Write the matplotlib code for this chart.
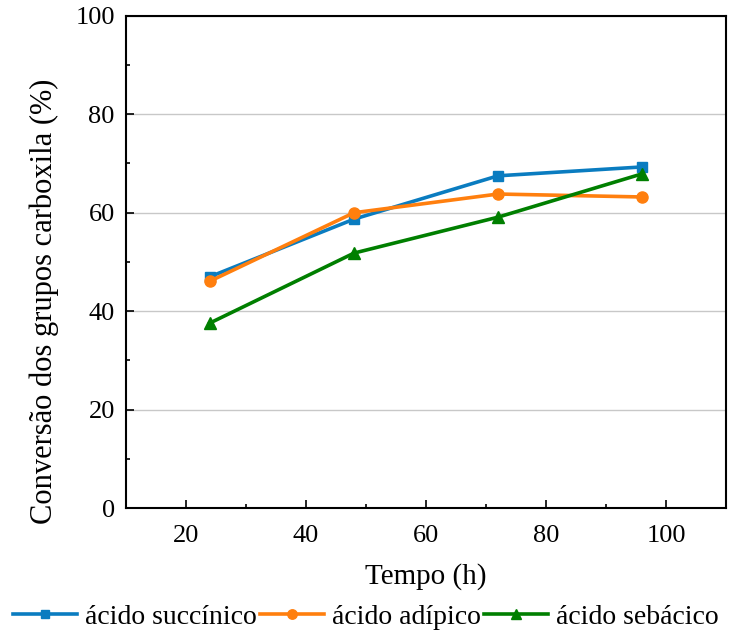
import matplotlib
matplotlib.use("Agg")
import matplotlib.pyplot as plt
from matplotlib.ticker import MultipleLocator

plt.rcParams['font.family'] = ['Liberation Serif', 'DejaVu Serif']

tempo = [24, 48, 72, 96]
succinico = [47.0, 58.7, 67.5, 69.3]
adipico = [46.1, 60.0, 63.8, 63.2]
sebacico = [37.6, 51.8, 59.1, 67.9]
series_labels = ["ácido succínico", "ácido adípico", "ácido sebácico"]

fig = plt.figure(figsize=(7.32, 6.32), dpi=100)
ax = fig.add_axes([0.172, 0.196, 0.82, 0.779])

ax.plot(tempo, succinico, color='#0a7cc0', lw=2.6, marker='s', ms=7, label=series_labels[0])
ax.plot(tempo, adipico, color='#ff7f0e', lw=2.6, marker='o', ms=8, label=series_labels[1])
ax.plot(tempo, sebacico, color='#007f00', lw=2.6, marker='^', ms=8, label=series_labels[2])

ax.set_xlim(10, 110)
ax.set_ylim(0, 100)
ax.xaxis.set_major_locator(MultipleLocator(20))
ax.xaxis.set_minor_locator(MultipleLocator(10))
ax.yaxis.set_major_locator(MultipleLocator(20))
ax.yaxis.set_minor_locator(MultipleLocator(10))
ax.tick_params(which='both', direction='in', labelsize=19, width=1.2)
ax.tick_params(which='major', length=6)
ax.tick_params(which='minor', length=3)
ax.tick_params(axis='x', pad=12)
ax.tick_params(axis='y', pad=8)
ax.grid(axis='y', which='major', color='#c8c8c8', lw=1)
ax.set_axisbelow(True)
for s in ax.spines.values():
    s.set_linewidth(1.5)

ax.set_xlabel("Tempo (h)", fontsize=21, labelpad=12)
ax.set_ylabel("Conversão dos grupos carboxila (%)", fontsize=22, labelpad=10)
ax.yaxis.set_label_coords(-0.112, 0.42)

fig.legend(loc='lower center', bbox_to_anchor=(0.5, -0.036), ncol=3, frameon=False,
           fontsize=20, handlelength=2.3, columnspacing=0.1, handletextpad=0.3,
           markerscale=0.85)

fig.savefig("out.png", dpi=100)
